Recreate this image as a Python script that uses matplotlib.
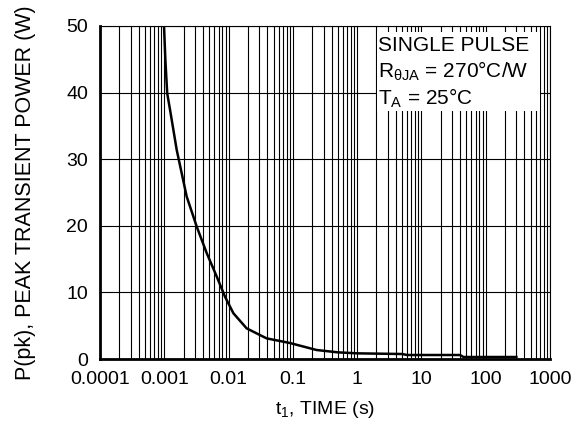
import matplotlib
matplotlib.use("Agg")
from matplotlib import pyplot as plt
from matplotlib.ticker import LogLocator, FixedLocator, NullFormatter
from matplotlib.patches import Rectangle
import numpy as np

plt.rcParams['font.family'] = ['Liberation Sans', 'DejaVu Sans']
plt.rcParams['mathtext.fontset'] = 'custom'
plt.rcParams['mathtext.rm'] = 'Liberation Sans'
plt.rcParams['mathtext.it'] = 'Liberation Sans'

# curve: pulse time (s) vs peak power (W)
t_s = [0.00099, 0.00104, 0.00111, 0.00123, 0.00156, 0.00223, 0.00319, 0.00457,
       0.00653, 0.0088, 0.0119, 0.0191, 0.039, 0.09, 0.234, 0.5, 1.0, 5.0,
       6.0, 40.0, 45.0, 300.0]
p_w = [50, 44.9, 39.9, 37.4, 31.4, 24.4, 19.9, 15.9,
       12.4, 9.35, 6.86, 4.6, 3.1, 2.4, 1.35, 1.0, 0.85, 0.75,
       0.6, 0.6, 0.3, 0.3]

x_ticks = [1e-4, 1e-3, 1e-2, 1e-1, 1, 10, 100, 1000]
x_labels = ["0.0001", "0.001", "0.01", "0.1", "1", "10", "100", "1000"]
y_ticks = [0, 10, 20, 30, 40, 50]

note_lines = ["SINGLE PULSE", r"R$_{\mathregular{θJA}}$ = 270°C/W", r"T$_\mathregular{A}$ = 25°C"]

fig = plt.figure(figsize=(5.81, 4.32), dpi=100)
ax = fig.add_axes([100/581, 73/432, 450/581, 333/432])

ax.set_xscale('log')
ax.set_xlim(1e-4, 1e3)
ax.set_ylim(0, 50)

ax.xaxis.set_major_locator(FixedLocator(x_ticks))
ax.set_xticklabels(x_labels)
ax.xaxis.set_minor_locator(LogLocator(base=10, subs=np.arange(2, 10), numticks=20))
ax.xaxis.set_minor_formatter(NullFormatter())
ax.set_yticks(y_ticks)

ax.grid(True, which='both', axis='x', color='black', linewidth=0.8)
ax.grid(True, which='major', axis='y', color='black', linewidth=0.8)
ax.tick_params(which='both', length=0, labelsize=14, pad=8.5)

for side in ['left', 'bottom']:
    ax.spines[side].set_linewidth(2.0)
for side in ['top', 'right']:
    ax.spines[side].set_linewidth(0.8)

ax.plot(t_s, p_w, color='black', linewidth=1.8, zorder=3)

# white box behind the note
ax.add_patch(Rectangle((0.616, 0.745), 0.362, 0.237, transform=ax.transAxes,
                       facecolor='white', edgecolor='none', zorder=2.5))
for i, line in enumerate(note_lines):
    ax.text(0.618, 0.925 - i * 0.081, line, transform=ax.transAxes,
            fontsize=15, va='baseline', ha='left', zorder=4)

ax.set_xlabel(r"t$_\mathregular{1}$, TIME (s)", fontsize=14)
ax.xaxis.set_label_coords(0.5, -0.121)
ax.set_ylabel("P(pk), PEAK TRANSIENT POWER (W)", fontsize=15.5)
ax.yaxis.set_label_coords(-0.142, 0.5)

fig.savefig("out.png", dpi=100)
